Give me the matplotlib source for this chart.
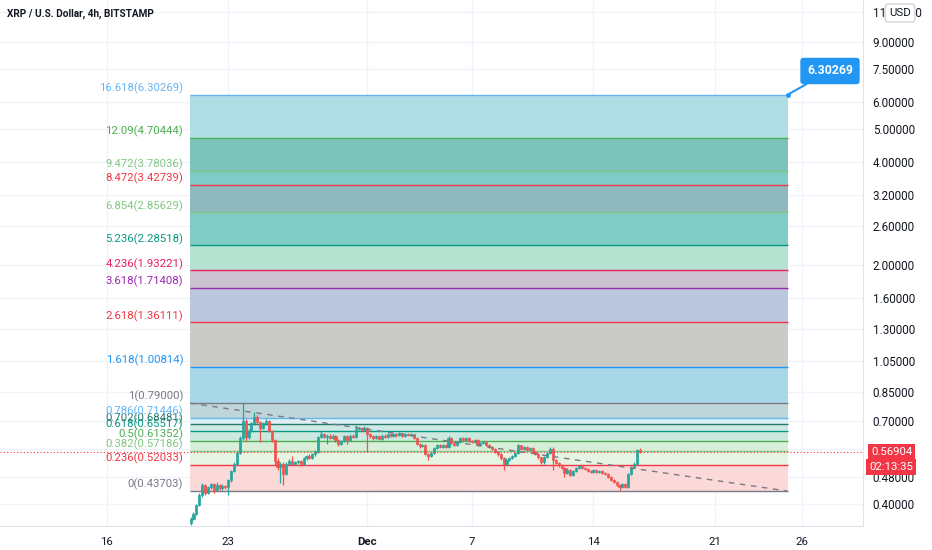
import numpy as np
import pandas as pd
import matplotlib
matplotlib.use("Agg")
import matplotlib.pyplot as plt
import matplotlib.dates as mdates
from matplotlib.ticker import FixedLocator, NullLocator, FuncFormatter

plt.rcParams['font.family'] = ['Roboto', 'DejaVu Sans']

# XRP/USD 4h candles
first_open = 0.352
closes = [0.362, 0.375, 0.398, 0.425, 0.455, 0.432, 0.448, 0.458, 0.440, 0.455,
          0.445, 0.452, 0.448, 0.470, 0.500, 0.525, 0.565, 0.625, 0.700, 0.630,
          0.655, 0.690, 0.720, 0.695, 0.668, 0.690, 0.700, 0.655, 0.615, 0.535,
          0.515, 0.525, 0.490, 0.525, 0.535, 0.525, 0.530, 0.535, 0.525, 0.545,
          0.553, 0.547, 0.560, 0.570, 0.630, 0.640, 0.630, 0.635, 0.625, 0.635,
          0.615, 0.600, 0.612, 0.632, 0.615, 0.635, 0.628, 0.665, 0.668, 0.660,
          0.670, 0.640, 0.632, 0.625, 0.632, 0.622, 0.635, 0.630, 0.640, 0.633,
          0.642, 0.636, 0.645, 0.635, 0.642, 0.636, 0.640, 0.625, 0.600, 0.592,
          0.598, 0.562, 0.552, 0.565, 0.585, 0.595, 0.588, 0.598, 0.590, 0.625,
          0.605, 0.598, 0.610, 0.625, 0.615, 0.625, 0.613, 0.610, 0.618, 0.598,
          0.605, 0.610, 0.598, 0.588, 0.582, 0.570, 0.560, 0.545, 0.525, 0.540,
          0.545, 0.555, 0.565, 0.595, 0.580, 0.590, 0.578, 0.585, 0.570, 0.560,
          0.548, 0.530, 0.550, 0.565, 0.580, 0.540, 0.528, 0.520, 0.512, 0.495,
          0.505, 0.488, 0.500, 0.510, 0.518, 0.512, 0.508, 0.502, 0.498, 0.503,
          0.497, 0.502, 0.495, 0.490, 0.482, 0.472, 0.465, 0.455, 0.450, 0.458,
          0.450, 0.490, 0.515, 0.525, 0.575, 0.569]
highs = [0.366, 0.379, 0.402, 0.431, 0.462, 0.458, 0.452, 0.463, 0.460, 0.466,
         0.458, 0.457, 0.455, 0.474, 0.505, 0.530, 0.572, 0.632, 0.790, 0.712,
         0.662, 0.697, 0.742, 0.728, 0.700, 0.696, 0.712, 0.705, 0.660, 0.620,
         0.545, 0.532, 0.530, 0.530, 0.542, 0.555, 0.536, 0.540, 0.540, 0.549,
         0.558, 0.560, 0.564, 0.575, 0.634, 0.655, 0.645, 0.640, 0.640, 0.640,
         0.638, 0.620, 0.617, 0.636, 0.636, 0.640, 0.640, 0.682, 0.675, 0.672,
         0.676, 0.675, 0.645, 0.636, 0.637, 0.636, 0.640, 0.640, 0.645, 0.644,
         0.646, 0.646, 0.652, 0.648, 0.646, 0.646, 0.644, 0.643, 0.628, 0.605,
         0.602, 0.600, 0.566, 0.569, 0.589, 0.599, 0.599, 0.602, 0.602, 0.635,
         0.628, 0.608, 0.614, 0.629, 0.628, 0.629, 0.628, 0.617, 0.622, 0.621,
         0.609, 0.614, 0.613, 0.601, 0.591, 0.585, 0.573, 0.563, 0.548, 0.545,
         0.550, 0.559, 0.569, 0.602, 0.598, 0.594, 0.593, 0.589, 0.588, 0.573,
         0.563, 0.551, 0.554, 0.569, 0.590, 0.590, 0.543, 0.531, 0.523, 0.515,
         0.509, 0.508, 0.504, 0.514, 0.522, 0.521, 0.515, 0.511, 0.505, 0.506,
         0.506, 0.505, 0.505, 0.498, 0.493, 0.485, 0.475, 0.468, 0.458, 0.462,
         0.461, 0.494, 0.519, 0.530, 0.580, 0.585]
lows = [0.349, 0.359, 0.372, 0.394, 0.421, 0.425, 0.428, 0.444, 0.430, 0.437,
        0.440, 0.441, 0.444, 0.425, 0.466, 0.497, 0.520, 0.560, 0.618, 0.612,
        0.622, 0.650, 0.684, 0.688, 0.608, 0.662, 0.684, 0.650, 0.608, 0.520,
        0.505, 0.461, 0.455, 0.486, 0.520, 0.520, 0.521, 0.526, 0.518, 0.520,
        0.540, 0.542, 0.543, 0.555, 0.566, 0.626, 0.624, 0.600, 0.619, 0.620,
        0.610, 0.594, 0.596, 0.607, 0.600, 0.611, 0.623, 0.624, 0.658, 0.654,
        0.655, 0.569, 0.625, 0.618, 0.620, 0.617, 0.618, 0.625, 0.626, 0.628,
        0.629, 0.631, 0.632, 0.630, 0.631, 0.632, 0.632, 0.620, 0.596, 0.586,
        0.587, 0.556, 0.540, 0.548, 0.561, 0.581, 0.583, 0.584, 0.586, 0.586,
        0.600, 0.593, 0.594, 0.606, 0.610, 0.611, 0.609, 0.605, 0.606, 0.594,
        0.594, 0.601, 0.594, 0.584, 0.578, 0.566, 0.555, 0.540, 0.503, 0.520,
        0.535, 0.541, 0.551, 0.561, 0.575, 0.576, 0.574, 0.574, 0.566, 0.556,
        0.543, 0.525, 0.526, 0.546, 0.561, 0.503, 0.523, 0.515, 0.507, 0.480,
        0.491, 0.484, 0.485, 0.497, 0.507, 0.508, 0.504, 0.498, 0.494, 0.495,
        0.493, 0.494, 0.491, 0.486, 0.478, 0.468, 0.461, 0.451, 0.437, 0.446,
        0.445, 0.447, 0.487, 0.512, 0.522, 0.566]
times = pd.date_range("2020-11-20 20:00", periods=len(closes), freq="4h")

# Fib extension levels
fib_levels = ["0", "0.236", "0.382", "0.5", "0.618", "0.702", "0.786", "1", "1.618",
              "2.618", "3.618", "4.236", "5.236", "6.854", "8.472", "9.472", "12.09", "16.618"]
fib_prices = [0.43703, 0.52033, 0.57186, 0.61352, 0.65517, 0.68481, 0.71446, 0.79000,
              1.00814, 1.36111, 1.71408, 1.93221, 2.28518, 2.85629, 3.42739, 3.78036,
              4.70444, 6.30269]
fib_start = pd.Timestamp("2020-11-20 19:30")
fib_end = pd.Timestamp("2020-12-25 04:00")

last_price = 0.56904
countdown = "02:13:35"

y_ticks = [0.40, 0.48, 0.58, 0.70, 0.85, 1.05, 1.30, 1.60, 2.00, 2.60, 3.20,
           4.00, 5.00, 6.00, 7.50, 9.00, 11.00]
x_tick_dates = ["2020-11-16", "2020-11-23", "2020-12-01", "2020-12-07",
                "2020-12-14", "2020-12-21", "2020-12-26"]
x_tick_labels = ["16", "23", "Dec", "7", "14", "21", "26"]

line_colors = ['#787b86', '#f23645', '#81c784', '#4caf50', '#089981', '#267a6a',
               '#64b5f6', '#787b86', '#2196f3', '#f23645', '#9c27b0', '#e91e63',
               '#089981', '#81c784', '#f23645', '#81c784', '#4caf50', '#64b5f6']
band_colors = ['#fcd9d9', '#e6f4e4', '#d9eed9', '#cbe9df', '#cde9e6', '#dcf0f6',
               '#bed6d8', '#a8d8e8', '#cacac7', '#bbc7dd', '#cbc4d0', '#b5e3d2',
               '#80cbc6', '#8fb8bf', '#7ecbc7', '#7cc4bb', '#b0dde4']

up_col = '#26a69a'
down_col = '#ef5350'
text_col = '#131722'
grid_col = '#f0f3fa'

fig = plt.figure(figsize=(9.32, 5.5), dpi=100)
ax = fig.add_axes([0, 24 / 550, 863 / 932, 526 / 550])
ax.set_yscale('log')
ax.set_ylim(0.3455, 11.92)
ax.set_xlim(pd.Timestamp("2020-11-09 21:00"), pd.Timestamp("2020-12-29 12:00"))

# fib bands and lines
for k in range(len(fib_prices) - 1):
    ax.fill_between([fib_start, fib_end], fib_prices[k], fib_prices[k + 1],
                    color=band_colors[k], lw=0, zorder=1)
for k in range(len(fib_prices)):
    ax.hlines(fib_prices[k], fib_start, fib_end, color=line_colors[k], lw=1, zorder=2)
    ax.annotate(f"{fib_levels[k]}({fib_prices[k]:.5f})", xy=(fib_start, fib_prices[k]),
                xytext=(-5, 0.5), textcoords='offset points', ha='right', va='bottom',
                color=line_colors[k], fontsize=8.2)

# trend line between the anchor points
ax.plot([fib_start, fib_end], [fib_prices[7], fib_prices[0]], color='#787b86',
        lw=1, ls=(0, (4, 4)), zorder=4)

# candles
opens = [first_open] + closes[:-1]
cols = [up_col if c >= o else down_col for o, c in zip(opens, closes)]
ax.vlines(times, lows, highs, colors=cols, lw=0.9, zorder=3)
bottoms = [min(o, c) for o, c in zip(opens, closes)]
heights = [abs(c - o) for o, c in zip(opens, closes)]
ax.bar(times, heights, bottom=bottoms, width=0.12, color=cols, edgecolor=cols,
       lw=0.5, zorder=3)

# last price line
ax.axhline(last_price, color='#f23645', lw=0.8, ls=(0, (1, 2)), zorder=4)

# grid / axes
ax.yaxis.tick_right()
ax.yaxis.set_major_locator(FixedLocator(y_ticks))
ax.yaxis.set_minor_locator(NullLocator())
ax.yaxis.set_major_formatter(FuncFormatter(lambda v, p: f"{v:.5f}"))
ax.set_xticks([pd.Timestamp(d) for d in x_tick_dates])
ax.set_xticklabels(x_tick_labels)
for lab in ax.get_xticklabels():
    if lab.get_text() == "Dec":
        lab.set_fontweight('bold')
ax.tick_params(axis='y', length=0, pad=7, labelsize=8.4, labelcolor=text_col)
ax.tick_params(axis='x', length=0, pad=8, labelsize=8.2, labelcolor=text_col)
ax.grid(True, color=grid_col, lw=1, zorder=0)
ax.set_axisbelow(True)
for s in ['top', 'left']:
    ax.spines[s].set_visible(False)
for s in ['right', 'bottom']:
    ax.spines[s].set_color('#e0e3eb')

# price label and countdown
ax.annotate(f"{last_price:.5f}", xy=(1, last_price), xycoords=ax.get_yaxis_transform(),
            xytext=(6, 0), textcoords='offset points', ha='left', va='center',
            color='white', fontsize=8.2, annotation_clip=False,
            bbox=dict(boxstyle='square,pad=0.25', fc='#f23645', ec='none'))
ax.annotate(countdown, xy=(1, last_price), xycoords=ax.get_yaxis_transform(),
            xytext=(4.5, -11), textcoords='offset points', ha='left', va='center',
            color='white', fontsize=8.2, annotation_clip=False,
            bbox=dict(boxstyle='square,pad=0.25', fc='#f23645', ec='none'))

# top level callout
ax.plot([fib_end], [fib_prices[-1]], marker='o', ms=2.5, color='#2196f3', zorder=6)
ax.annotate(f"{fib_prices[-1]:.5f}", xy=(fib_end, fib_prices[-1]),
            xytext=(830, 479), textcoords='figure pixels', ha='center', va='center',
            color='white', fontsize=8.8, fontweight='bold', zorder=7,
            bbox=dict(boxstyle='round,pad=0.55,rounding_size=0.25', fc='#2196f3', ec='none'),
            arrowprops=dict(arrowstyle='-', color='#2196f3', lw=1.5, shrinkA=0, shrinkB=0))

fig.text(900 / 932, 537 / 550, "USD", ha='center', va='center', fontsize=8.2,
         color=text_col,
         bbox=dict(boxstyle='round,pad=0.35,rounding_size=0.3', fc='white', ec='#d1d4dc'))
fig.text(7 / 932, 536 / 550, "XRP / U.S. Dollar, 4h, BITSTAMP", ha='left', va='center',
         fontsize=7.2, fontweight='bold', color=text_col)

fig.savefig("out.png", dpi=100)
